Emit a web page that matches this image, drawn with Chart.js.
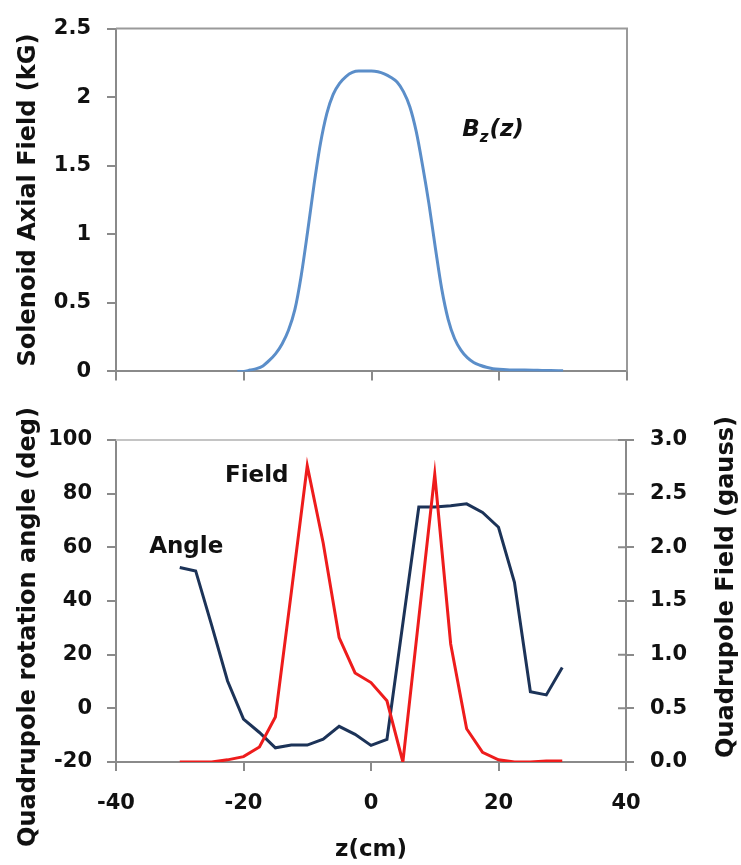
<!DOCTYPE html>
<html>
<head>
<meta charset="utf-8">
<script src="https://cdn.jsdelivr.net/npm/chart.js@4.4.1/dist/chart.umd.min.js"></script>
<style>
  body { margin: 0; background: #fff; }
  #wrap { position: relative; width: 741px; height: 865px; }
  canvas { position: absolute; left: 0; }
  #topChart { top: 0; }
  #bottomChart { top: 400px; }
</style>
</head>
<body>
<div id="wrap">
  <canvas id="topChart" width="741" height="400"></canvas>
  <canvas id="bottomChart" width="741" height="465"></canvas>
</div>
<script>
// solenoid axial field Bz(z), kG
const bzZ = [-21, -20, -19, -18, -17, -16, -15, -14, -13, -12, -11, -10, -9, -8, -7, -6, -5, -4, -3, -2,
  -1, 0, 1, 2, 3, 4, 5, 6, 7, 8, 9, 10, 11, 12, 13, 14, 15, 16, 17, 18, 19, 20, 22, 24, 26, 28, 30];
const bzVal = [0, 0, 0.01, 0.02, 0.04, 0.08, 0.13, 0.2, 0.3, 0.45, 0.7, 1.02, 1.36, 1.66, 1.88, 2.02, 2.1, 2.15, 2.18, 2.19,
  2.19, 2.19, 2.185, 2.17, 2.145, 2.11, 2.04, 1.93, 1.75, 1.5, 1.22, 0.9, 0.6, 0.38, 0.24, 0.155, 0.1, 0.065, 0.045, 0.03,
  0.02, 0.015, 0.01, 0.01, 0.008, 0.006, 0.005];

// quadrupole rotation angle (deg)
const angleZ = [-30, -27.5, -25, -22.5, -20, -17.5, -15, -12.5, -10, -7.5, -5, -2.5, 0, 2.5,
  7.5, 10, 12.5, 15, 17.5, 20, 22.5, 25, 27.5, 30];
const angleVal = [52.5, 51.2, 31, 10.2, -4, -9, -14.7, -13.7, -13.7, -11.5, -6.7, -9.7, -13.8, -11.6,
  75, 75, 75.5, 76.2, 73, 67.5, 47, 6.2, 5, 15.2];

// quadrupole field (gauss)
const fieldZ = [-30, -27.5, -25, -22.5, -20, -17.5, -15, -12.5, -10, -7.5, -5, -2.5, 0, 2.5,
  5, 7.5, 10, 12.5, 15, 17.5, 20, 22.5, 25, 27.5, 30];
const fieldVal = [0, 0, 0, 0.02, 0.05, 0.14, 0.42, 1.58, 2.76, 2.04, 1.16, 0.83, 0.74, 0.57,
  0, 1.34, 2.68, 1.1, 0.31, 0.09, 0.02, 0, 0, 0.01, 0.01];

// tick values
const zTicks = [-40, -20, 0, 20, 40];
const bzTicks = [0, 0.5, 1, 1.5, 2, 2.5];
const angleTicks = [-20, 0, 20, 40, 60, 80, 100];
const fieldTicks = [0, 0.5, 1, 1.5, 2, 2.5, 3];

const FONT = "'DejaVu Sans', 'Liberation Sans', Arial, sans-serif";
const axisGray = "#8a8a8a";
const tickFont = { family: FONT, size: 21, weight: "bold" };

const toPoints = (xs, ys) => xs.map((x, i) => ({ x, y: ys[i] }));
const setTicks = (arr) => (scale) => {
  scale.ticks = arr.map((v) => ({ value: v }));
};

// box lines that are not axes
const framePlugin = {
  id: "frame",
  afterDraw(chart, args, opts) {
    const { ctx, chartArea: a } = chart;
    ctx.save();
    ctx.strokeStyle = opts.color;
    ctx.lineWidth = opts.width;
    ctx.beginPath();
    ctx.moveTo(a.left, a.top);
    ctx.lineTo(a.right, a.top);
    if (opts.right) ctx.lineTo(a.right, a.bottom);
    ctx.stroke();
    ctx.restore();
  },
};

// text notes placed in data coordinates
const notesPlugin = {
  id: "notes",
  afterDraw(chart, args, opts) {
    const { ctx } = chart;
    ctx.save();
    ctx.fillStyle = "#111";
    ctx.textBaseline = "alphabetic";
    (opts.items || []).forEach((n) => {
      let x = chart.scales.x.getPixelForValue(n.x);
      const y = chart.scales[n.axis].getPixelForValue(n.y);
      n.parts.forEach((p) => {
        ctx.font = `${p.style || ""} bold ${p.size}px ${FONT}`;
        ctx.fillText(p.text, x, y + (p.dy || 0));
        x += ctx.measureText(p.text).width + (p.gap || 0);
      });
    });
    ctx.restore();
  },
};

// rotated side titles (both read bottom to top)
const sideTitlesPlugin = {
  id: "sideTitles",
  afterDraw(chart, args, opts) {
    const { ctx } = chart;
    (opts.items || []).forEach((t) => {
      ctx.save();
      ctx.translate(t.x, t.y);
      ctx.rotate(-Math.PI / 2);
      ctx.font = `bold ${t.size}px ${FONT}`;
      ctx.fillStyle = "#111";
      ctx.textAlign = "center";
      ctx.textBaseline = "middle";
      ctx.fillText(t.text, 0, 0);
      ctx.restore();
    });
  },
};

// right axis ticks cross the axis line
const crossTicksPlugin = {
  id: "crossTicks",
  afterDraw(chart, args, opts) {
    const s = chart.scales[opts.axis];
    const { ctx } = chart;
    ctx.save();
    ctx.strokeStyle = axisGray;
    ctx.lineWidth = 2;
    ctx.beginPath();
    s.ticks.forEach((t) => {
      const y = s.getPixelForValue(t.value);
      ctx.moveTo(s.left - opts.length, y);
      ctx.lineTo(s.left, y);
    });
    ctx.stroke();
    ctx.restore();
  },
};

new Chart(document.getElementById("topChart"), {
  type: "line",
  data: {
    datasets: [
      {
        data: toPoints(bzZ, bzVal),
        borderColor: "#5b8ec9",
        borderWidth: 3,
        pointRadius: 0,
        cubicInterpolationMode: "monotone",
      },
    ],
  },
  options: {
    responsive: false,
    animation: false,
    layout: { padding: { top: 21, right: 114, left: 0, bottom: 0 } },
    plugins: {
      legend: { display: false },
      tooltip: { enabled: false },
      frame: { color: "#9a9a9a", width: 2, right: true },
      notes: {
        items: [
          {
            axis: "y",
            x: 14.2,
            y: 1.72,
            parts: [
              { text: "B", size: 23, style: "italic" },
              { text: "z", size: 15, style: "italic", dy: 6, gap: 1 },
              { text: "(z)", size: 23, style: "italic" },
            ],
          },
        ],
      },
    },
    scales: {
      x: {
        type: "linear",
        min: -40,
        max: 40,
        afterBuildTicks: setTicks(zTicks),
        ticks: { display: false },
        grid: { drawOnChartArea: false, tickLength: 9, color: axisGray, lineWidth: 2 },
        border: { color: axisGray, width: 2 },
        afterFit: (s) => { s.height = 20; },
      },
      y: {
        min: 0,
        max: 2.5,
        afterBuildTicks: setTicks(bzTicks),
        ticks: { font: tickFont, color: "#111", padding: 16, callback: (v) => String(v) },
        grid: { drawOnChartArea: false, tickLength: 9, color: axisGray, lineWidth: 2 },
        border: { color: axisGray, width: 2 },
        title: {
          display: true,
          text: "Solenoid Axial Field (kG)",
          color: "#111",
          font: { family: FONT, size: 24, weight: "bold" },
          padding: { top: 14, bottom: 0 },
        },
        afterFit: (s) => { s.width = 116; },
      },
    },
  },
  plugins: [framePlugin, notesPlugin],
});

new Chart(document.getElementById("bottomChart"), {
  type: "line",
  data: {
    datasets: [
      {
        label: "Field",
        data: toPoints(fieldZ, fieldVal),
        yAxisID: "y2",
        borderColor: "#ee1c1c",
        borderWidth: 3,
        pointRadius: 0,
        tension: 0,
        order: 1,
      },
      {
        label: "Angle",
        data: toPoints(angleZ, angleVal),
        yAxisID: "y",
        borderColor: "#1c3358",
        borderWidth: 3,
        pointRadius: 0,
        tension: 0,
        order: 2,
      },
    ],
  },
  options: {
    responsive: false,
    animation: false,
    layout: { padding: { top: 40, right: 0, left: 0, bottom: 0 } },
    plugins: {
      legend: { display: false },
      tooltip: { enabled: false },
      frame: { color: "#c4c4c4", width: 2, right: false },
      crossTicks: { axis: "y2", length: 8 },
      notes: {
        items: [
          { axis: "y", x: -22.9, y: 84.5, parts: [{ text: "Field", size: 23 }] },
          { axis: "y", x: -34.8, y: 57.8, parts: [{ text: "Angle", size: 23 }] },
        ],
      },
      sideTitles: {
        items: [
          { text: "Quadrupole rotation angle (deg)", x: 29, y: 227, size: 24 },
          { text: "Quadrupole Field (gauss)", x: 727, y: 187, size: 24 },
        ],
      },
    },
    scales: {
      x: {
        type: "linear",
        min: -40,
        max: 40,
        afterBuildTicks: setTicks(zTicks),
        ticks: { font: tickFont, color: "#111", padding: 20, maxRotation: 0 },
        grid: { drawOnChartArea: false, tickLength: 9, color: axisGray, lineWidth: 2 },
        border: { color: axisGray, width: 2 },
        title: {
          display: true,
          text: "z(cm)",
          color: "#111",
          font: { family: FONT, size: 23, weight: "bold" },
          padding: { top: 0, bottom: 1 },
        },
        afterFit: (s) => { s.height = 103; },
      },
      y: {
        position: "left",
        min: -20,
        max: 100,
        afterBuildTicks: setTicks(angleTicks),
        ticks: { font: tickFont, color: "#111", padding: 15 },
        grid: { drawOnChartArea: false, tickLength: 9, color: axisGray, lineWidth: 2 },
        border: { color: axisGray, width: 2 },
        afterFit: (s) => { s.width = 116; },
      },
      y2: {
        position: "right",
        min: 0,
        max: 3,
        afterBuildTicks: setTicks(fieldTicks),
        ticks: { font: tickFont, color: "#111", padding: 16, callback: (v) => v.toFixed(1) },
        grid: { drawOnChartArea: false, tickLength: 8, color: axisGray, lineWidth: 2 },
        border: { color: axisGray, width: 2 },
        afterFit: (s) => { s.width = 115; },
      },
    },
  },
  plugins: [framePlugin, crossTicksPlugin, notesPlugin, sideTitlesPlugin],
});
</script>
</body>
</html>
